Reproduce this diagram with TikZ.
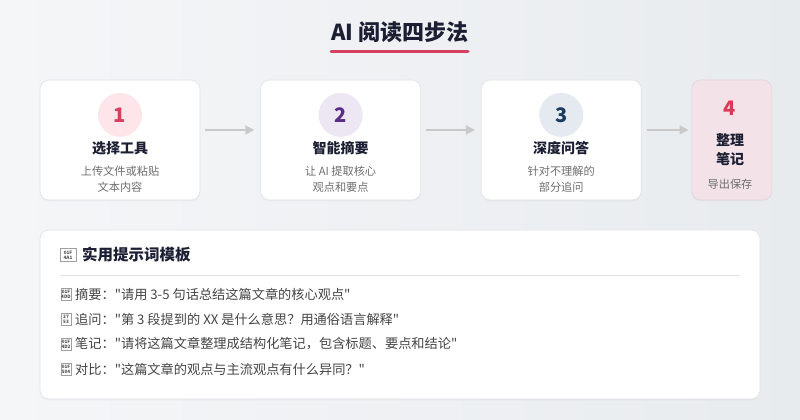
\documentclass[tikz,border=0pt]{standalone}
\usepackage{fontspec}
\setmainfont{Noto Sans CJK SC}[Ligatures=TeXOff]
\usepackage{xcolor}
\usepackage{tikz}
\usetikzlibrary{arrows.meta,positioning,shadows}

\definecolor{bgA}{HTML}{F5F6F8}
\definecolor{bgB}{HTML}{E8EBEE}
\definecolor{ink}{HTML}{1C1F33}
\definecolor{accent}{HTML}{D6405E}
\definecolor{edge}{HTML}{E1E2E6}
\definecolor{muted}{HTML}{6E6E6E}
\definecolor{body}{HTML}{454545}
\definecolor{arrgray}{HTML}{C9C9C9}
\definecolor{pinkA}{HTML}{FDE5EA}
\definecolor{purpA}{HTML}{ECE7F2}
\definecolor{purpB}{HTML}{5A2D86}
\definecolor{blueA}{HTML}{E5EAF0}
\definecolor{blueB}{HTML}{1D3B5E}
\definecolor{cardpink}{HTML}{F3E3E8}

\begin{document}
\begin{tikzpicture}[
  x=1pt, y=1pt,
  card/.style={draw=edge, fill=white, rounded corners=9pt, line width=0.6pt,
    minimum width=160pt, minimum height=120pt, drop shadow={opacity=0.06, shadow xshift=0pt, shadow yshift=-1.5pt}},
  endcard/.style={card, draw=cardpink!85!gray, fill=cardpink, minimum width=80pt},
  numcirc/.style={circle, minimum size=44pt, inner sep=0pt, font=\fontsize{20}{20}\selectfont\bfseries},
  steptitle/.style={font=\fontsize{14}{17}\selectfont\bfseries, text=ink, align=center},
  stepdesc/.style={font=\fontsize{11.2}{16}\selectfont, text=muted, align=center},
  tofu/.style={draw=gray!75, line width=0.5pt, inner sep=0.3pt, text=gray!60!black,
    minimum width=10pt, minimum height=12pt, font=\fontsize{4.6}{4.8}\selectfont\bfseries, align=center},
  prompt/.style={anchor=west, font=\fontsize{13.2}{15}\selectfont, text=body, inner sep=0pt},
  arr/.style={-{Triangle[length=9pt, width=9pt]}, arrgray, line width=1.8pt},
  node distance=60pt
]

% ---------- Background ----------
\shade[left color=bgA, right color=bgB] (0,0) rectangle (800,420);
\useasboundingbox (0,0) rectangle (800,420);

% ---------- Title ----------
\node[font=\fontsize{22}{24}\selectfont\bfseries, text=ink] (title) at (400,388) {AI 阅读四步法};
\draw[accent, line width=3pt, line cap=round] (331,368) -- (468,368);

% ---------- Step cards ----------
\node[card] (c1) at (120,280) {};
\node[card, right=of c1] (c2) {};
\node[card, right=of c2] (c3) {};
\node[endcard, right=50pt of c3] (c4) {};

% ---------- Card contents ----------
\node[numcirc, fill=pinkA, text=accent, below=13pt of c1.north] (n1) {1};
\node[steptitle, below=1pt of n1] (t1) {选择工具};
\node[stepdesc, below=4pt of t1] (d1) {上传文件或粘贴\\文本内容};

\node[numcirc, fill=purpA, text=purpB, below=13pt of c2.north] (n2) {2};
\node[steptitle, below=1pt of n2] (t2) {智能摘要};
\node[stepdesc, below=4pt of t2] (d2) {让 AI 提取核心\\观点和要点};

\node[numcirc, fill=blueA, text=blueB, below=13pt of c3.north] (n3) {3};
\node[steptitle, below=1pt of n3] (t3) {深度问答};
\node[stepdesc, below=4pt of t3] (d3) {针对不理解的\\部分追问};

\node[font=\fontsize{20}{20}\selectfont\bfseries, text=accent!90!red] (n4) at (730,312) {4};
\node[steptitle, font=\fontsize{14}{19}\selectfont\bfseries] (t4) at (730,270.5) {整理\\笔记};
\node[stepdesc] (d4) at (730,236) {导出保存};

% ---------- Arrows between steps ----------
\draw[arr] ([shift={(5pt,10pt)}]c1.east) -- ([shift={(-6pt,10pt)}]c2.west);
\draw[arr] ([shift={(5pt,10pt)}]c2.east) -- ([shift={(-6pt,10pt)}]c3.west);
\draw[arr] ([shift={(5pt,10pt)}]c3.east) -- ([shift={(-3pt,10pt)}]c4.west);

% ---------- Prompt template panel ----------
\node[card, minimum width=720pt, minimum height=169pt] (panel) at (400,105.5) {};
\node[tofu, minimum width=16pt, minimum height=13pt] (ic0) at (68,165) {01F\\4A1};
\node[anchor=west, font=\fontsize{15.5}{17}\selectfont\bfseries, text=ink, inner sep=0pt] (head) at (82,165) {实用提示词模板};
\coordinate (sepL) at (60,145);
\coordinate (sepR) at (740,145);
\draw[edge, line width=0.8pt] (sepL) -- (sepR);

\node[tofu] (ic1) at (66,126) {01F\\4DD};
\node[prompt] (p1) at (75,126) {摘要："请用 3-5 句话总结这篇文章的核心观点"};
\node[tofu] (ic2) at (66,101) {27\\53};
\node[prompt] (p2) at (75,101) {追问："第 3 段提到的 XX 是什么意思？用通俗语言解释"};
\node[tofu] (ic3) at (66,76) {01F\\4D2};
\node[prompt] (p3) at (75,76) {笔记："请将这篇文章整理成结构化笔记，包含标题、要点和结论"};
\node[tofu] (ic4) at (66,51) {01F\\504};
\node[prompt] (p4) at (75,51) {对比："这篇文章的观点与主流观点有什么异同？"};

\end{tikzpicture}
\end{document}
